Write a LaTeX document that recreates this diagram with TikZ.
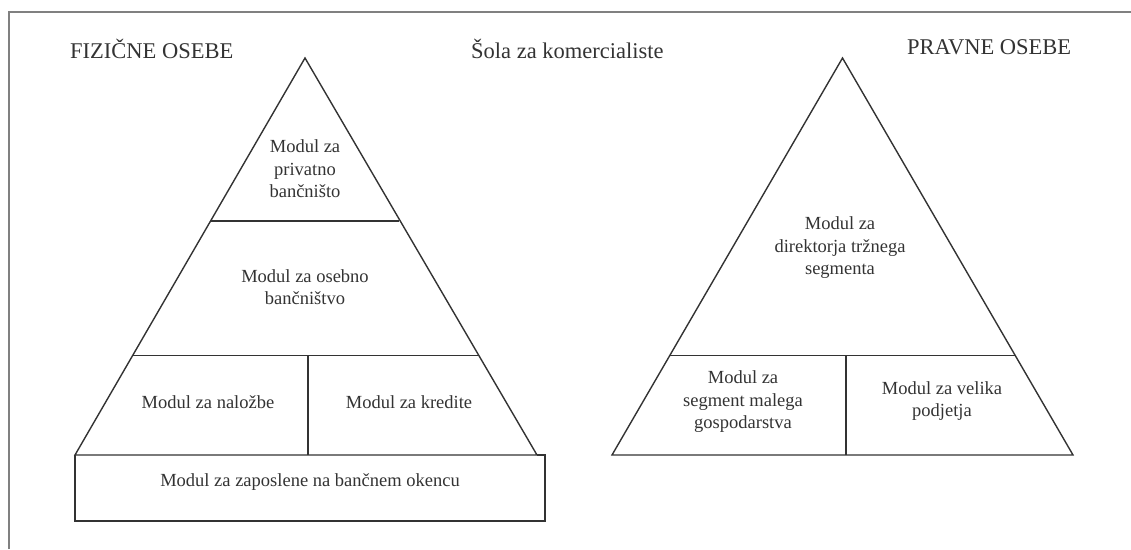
\documentclass[tikz,border=0pt]{standalone}
\usepackage{fontspec}
\setmainfont{Liberation Serif}
\definecolor{ink}{HTML}{333333}
\definecolor{framegray}{HTML}{808080}
\tikzset{
  edge/.style={draw=ink, line width=1.4pt, line join=miter},
  heading/.style={text=ink, font=\fontsize{22.5}{27}\selectfont, inner sep=0pt, anchor=base west},
  label/.style={text=ink, font=\fontsize{18.5}{22.5}\selectfont, align=center, inner sep=0pt},
}
\begin{document}
\begin{tikzpicture}[x=1pt,y=-1pt]
\useasboundingbox (0,0) rectangle (1131,549);
% open frame: top and left edges only
\draw[framegray, line width=2pt] (9,549) -- (9,11.5) -- (1131,11.5);

% headings
\node[heading] (fiz) at (70,58) {FIZIČNE OSEBE};
\node[heading] (sola) at (471,58) {Šola za komercialiste};
\node[heading] (prav) at (907,54) {PRAVNE OSEBE};

% left pyramid
\coordinate (LA) at (305,58);
\coordinate (LL) at (75,455);
\coordinate (LR) at (537,455);
\draw[edge] (LL) -- (LA) -- (LR) -- cycle;
\draw[edge] (210.6,221) -- (399.4,221);
\draw[edge] (132.4,355.5) -- (477.6,355.5);
\draw[edge] (308,355.5) -- (308,455);
% counter module below the pyramid
\draw[edge] (LL) -- (75,521) -- (545,521) -- (545,455) -- (LR);

\node[label] (priv) at (305,169) {Modul za\\privatno\\bančništo};
\node[label] (oseb) at (305,287) {Modul za osebno\\bančništvo};
\node[label] (nalo) at (208,402) {Modul za naložbe};
\node[label] (kred) at (409,402) {Modul za kredite};
\node[label] (zap) at (310,482) {Modul za zaposlene na bančnem okencu};

% right pyramid
\coordinate (RA) at (842.5,58);
\coordinate (RL) at (612,455);
\coordinate (RR) at (1073,455);
\draw[edge] (RL) -- (RA) -- (RR) -- cycle;
\draw[edge] (670.4,355.5) -- (1014.6,355.5);
\draw[edge] (846,355.5) -- (846,455);

\node[label] (dir) at (840,248) {Modul za\\direktorja tržnega\\segmenta};
\node[label] (seg) at (743,402) {Modul za\\segment malega\\gospodarstva};
\node[label] (vel) at (942,401) {Modul za velika\\podjetja};
\end{tikzpicture}
\end{document}
